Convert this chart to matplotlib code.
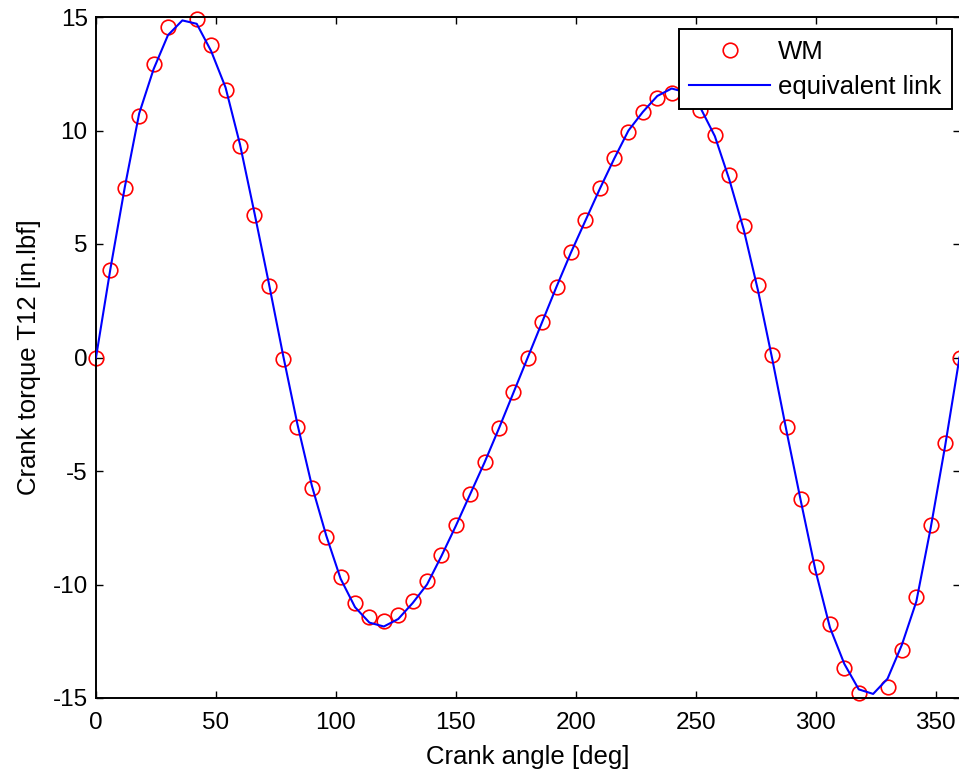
import numpy as np
import matplotlib
matplotlib.use("Agg")
import matplotlib.pyplot as plt

plt.rcParams['font.family'] = ['Liberation Sans', 'DejaVu Sans']
plt.rcParams['axes.unicode_minus'] = False

# ── Data ──────────────────────────────────────────────────────────────────────

# WM samples (markers), every 6 deg; 36 and 324 deg absent in the original
WM_ANGLE = [0, 6, 12, 18, 24, 30, 42, 48, 54, 60, 66, 72, 78, 84, 90, 96,
            102, 108, 114, 120, 126, 132, 138, 144, 150, 156, 162, 168, 174, 180,
            186, 192, 198, 204, 210, 216, 222, 228, 234, 240, 246, 252, 258, 264,
            270, 276, 282, 288, 294, 300, 306, 312, 318, 330, 336, 342, 348, 354, 360]
WM_TORQUE = [0.0, 3.85, 7.45, 10.62, 12.95, 14.55, 14.9, 13.75, 11.8, 9.3, 6.28,
             3.15, -0.05, -3.08, -5.73, -7.9, -9.68, -10.8, -11.42, -11.6, -11.33,
             -10.72, -9.85, -8.7, -7.4, -6.0, -4.6, -3.1, -1.52, 0.0,
             1.56, 3.12, 4.65, 6.05, 7.45, 8.78, 9.93, 10.8, 11.42, 11.65, 11.45,
             10.9, 9.8, 8.05, 5.8, 3.2, 0.12, -3.05, -6.22, -9.22, -11.76, -13.7,
             -14.8, -14.5, -12.9, -10.55, -7.38, -3.78, 0.0]

# equivalent link model (line), vertices every 6 deg
LINK_ANGLE = list(range(0, 361, 6))
LINK_TORQUE = [0.0, 3.9, 7.5, 10.75, 12.7, 14.2, 14.85, 14.7, 13.5, 11.9, 9.4,
               6.4, 3.3, 0.1, -2.95, -5.65, -7.85, -9.75, -11.0, -11.68, -11.85,
               -11.52, -10.82, -10.0, -8.75, -7.42, -6.02, -4.62, -3.12, -1.56, 0.0,
               1.56, 3.12, 4.62, 6.02, 7.42, 8.75, 10.0, 10.82, 11.52, 11.85,
               11.68, 11.0, 9.75, 7.85, 5.65, 2.95, -0.1, -3.3, -6.4, -9.4,
               -11.9, -13.5, -14.62, -14.82, -14.15, -12.65, -10.75, -7.5, -3.9, 0.0]

X_TICKS = [0, 50, 100, 150, 200, 250, 300, 350]
Y_TICKS = [-15, -10, -5, 0, 5, 10, 15]

# ── Figure ────────────────────────────────────────────────────────────────────

W, H = 959, 776
fig = plt.figure(figsize=(W / 100, H / 100), dpi=100)
ax = fig.add_axes([96 / W, (H - 698) / H, (959.5 - 96) / W, (698 - 17) / H])

ax.plot(WM_ANGLE, WM_TORQUE, linestyle="none", marker="o", markersize=10.5,
        markerfacecolor="none", markeredgecolor="#ff0000", markeredgewidth=1.2,
        label="WM", clip_on=False, zorder=2)
ax.plot(LINK_ANGLE, LINK_TORQUE, color="#0000ff", linewidth=1.5,
        label="equivalent link", zorder=3)

ax.set_xlim(0, 360)
ax.set_ylim(-15, 15)
ax.set_xticks(X_TICKS)
ax.set_yticks(Y_TICKS)
ax.tick_params(direction="in", length=5, width=1, top=True, right=True,
               labelsize=17.5, colors="black")
ax.tick_params(axis="x", pad=10)
ax.tick_params(axis="y", pad=6)
for s in ax.spines.values():
    s.set_linewidth(1.4)

ax.set_xlabel("Crank angle [deg]", fontsize=18.5, labelpad=8)
ax.set_ylabel("Crank torque T12 [in.lbf]", fontsize=18.5, labelpad=8)

leg = ax.legend(loc="upper right", bbox_to_anchor=((952 - 96) / 863.5, (698 - 29) / 681),
                borderaxespad=0, fontsize=18.5, frameon=True, fancybox=False,
                handlelength=3.15, handletextpad=0.3, borderpad=0.42,
                labelspacing=0.42)
leg.get_frame().set_edgecolor("black")
leg.get_frame().set_linewidth(1.4)
leg.get_frame().set_alpha(1)

fig.savefig("out.png", dpi=100)
